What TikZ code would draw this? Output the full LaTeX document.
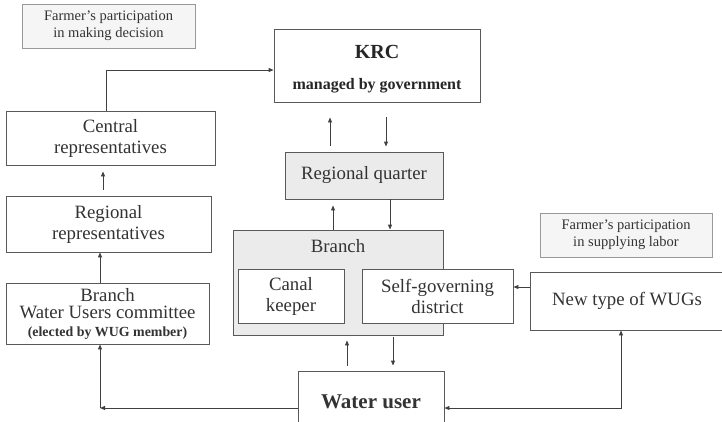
\documentclass[tikz,border=0pt]{standalone}
\usepackage{fontspec}
\setmainfont{Liberation Serif}
\usetikzlibrary{arrows.meta}

\begin{document}
\begin{tikzpicture}[x=1pt,y=-1pt,
  box/.style={draw=black!65,line width=0.9pt,fill=white,text=black!80,align=center,
    inner sep=0pt,font=\fontsize{18.8}{21}\selectfont},
  graybox/.style={box,fill=black!8},
  notebox/.style={draw=black!40,line width=0.9pt,fill=black!4,text=black!80,align=center,
    inner sep=0pt,font=\fontsize{14.5}{17}\selectfont},
  arr/.style={draw=black!75,line width=0.9pt,-{Triangle[length=5pt,width=4pt]}},
  arrboth/.style={arr,{Triangle[length=5pt,width=4pt]}-{Triangle[length=5pt,width=4pt]}}]
\useasboundingbox (0,0) rectangle (722,421);
\clip (0,0) rectangle (722,421);
% notes
\node[notebox,minimum width=173,minimum height=44] (fdec) at (108.5,26) {Farmer's participation\\in making decision};
\node[notebox,minimum width=172,minimum height=44] (fsup) at (626,235) {Farmer's participation\\in supplying labor};
% government side
\node[box,minimum width=206,minimum height=73] (krc) at (377,65.5) {};
\node[text=black!85,font=\fontsize{20}{22}\selectfont\bfseries] (krctitle) at (377,52) {KRC};
\node[text=black!85,font=\fontsize{16}{18}\selectfont\bfseries] (krcsub) at (377,86) {managed by government};
\node[graybox,minimum width=158,minimum height=47] (regq) at (364,175.5) {Regional quarter};
\node[graybox,minimum width=210,minimum height=105] (branch) at (338,282.5) {};
\node[text=black!80,font=\fontsize{18.8}{21}\selectfont] (branchlbl) at (338,246) {Branch};
\node[box,minimum width=106,minimum height=54] (canal) at (291,296) {Canal\\keeper};
\node[box,minimum width=151,minimum height=54] (selfgov) at (437.5,296) {Self-governing\\district};
% farmers side
\node[box,minimum width=209,minimum height=54] (central) at (110.5,138) {Central\\representatives};
\node[box,minimum width=205,minimum height=56] (regrep) at (108.5,224) {Regional\\representatives};
\node[box,minimum width=203,minimum height=61,font=\fontsize{18.8}{17.5}\selectfont] (wuc) at (107.5,313.5)
  {Branch\\Water Users committee\\{\fontsize{13.9}{16}\selectfont\bfseries (elected by WUG member)}};
\node[box,minimum width=146,minimum height=62,font=\fontsize{21}{24}\selectfont\bfseries] (wu) at (371,402) {Water user};
\node[box,minimum width=194,minimum height=58] (newwug) at (627,301) {New type of WUGs};
% connectors
\coordinate (c1) at (106,70);
\draw[arr] (c1 |- central.north) -- (c1) -- (c1 -| krc.west);
\draw[arr,shorten <=6pt,shorten >=6pt] (regrep.north -| 103,0) -- (central.south -| 103,0);
\draw[arr] (wuc.north -| 100,0) -- (regrep.south -| 100,0);
\draw[arr,shorten <=6pt,shorten >=15pt] (regq.north -| 330,0) -- (krc.south -| 330,0);
\draw[arr,shorten <=15pt,shorten >=5pt] (krc.south -| 386,0) -- (regq.north -| 386,0);
\draw[arr,shorten >=6pt] (branch.north -| 333,0) -- (regq.south -| 333,0);
\draw[arr] (regq.south -| 390,0) -- (branch.north -| 390,0);
\draw[arr,shorten <=5pt,shorten >=5pt] (wu.north -| 347,0) -- (branch.south -| 347,0);
\draw[arr,shorten <=2pt,shorten >=5pt] (branch.south -| 393,0) -- (wu.north -| 393,0);
\draw[arr] (newwug.west |- 0,287) -- (selfgov.east |- 0,287);
\draw[arrboth] (wu.east |- 0,408) -| (newwug.south -| 621,0);
\coordinate (c2) at (100,408);
\draw[arr] (wu.west |- c2) -- (c2);
\draw[arr] (c2) -- (c2 |- wuc.south);
\end{tikzpicture}
\end{document}
